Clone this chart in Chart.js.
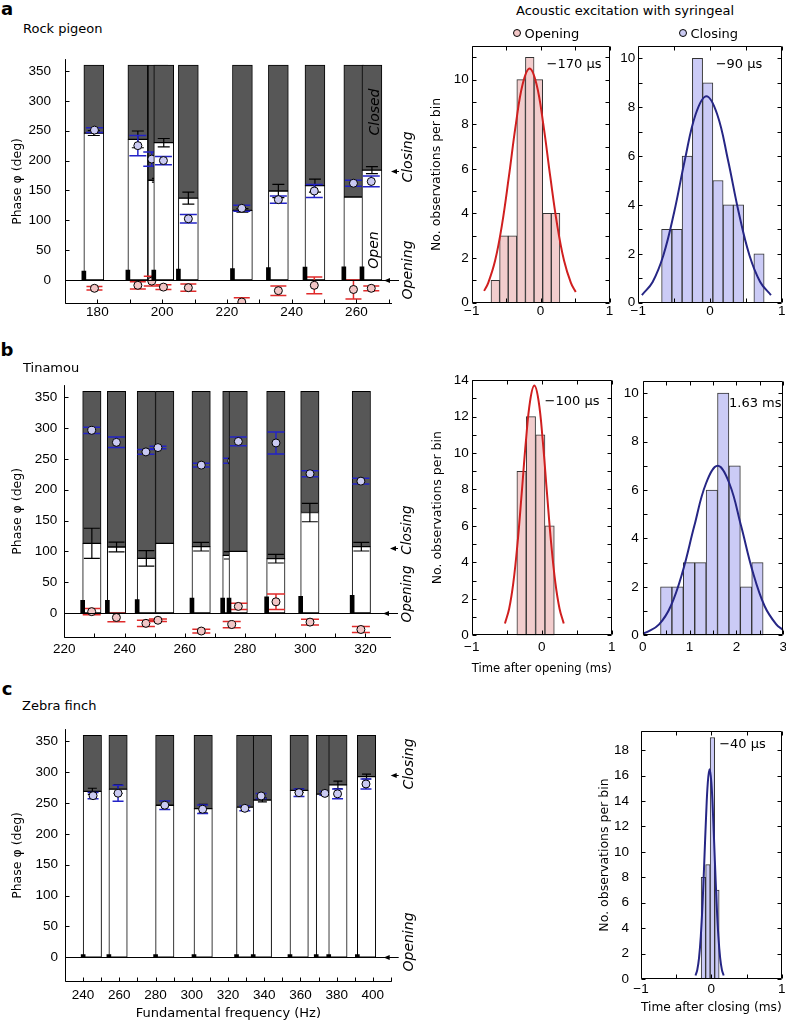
<!DOCTYPE html>
<html><head><meta charset="utf-8"><title>Syringeal phase</title>
<script src="https://cdn.jsdelivr.net/npm/chart.js@4.4.1/dist/chart.umd.min.js"></script>
<style>
html,body{margin:0;padding:0;background:#fff;}
body{position:relative;width:786px;height:1023px;overflow:hidden;font-family:"DejaVu Sans",sans-serif;color:#000;}
canvas{position:absolute;}
.lbl{position:absolute;white-space:nowrap;line-height:1;font-size:13px;}
.dot{position:absolute;width:8px;height:8px;border:1px solid #000;border-radius:50%;box-sizing:border-box;transform:translate(-50%,-50%);}
</style></head><body>
<script>
// ======================= DATA =======================
// Shared phase axis ticks (deg)
const phaseTicks = [0, 50, 100, 150, 200, 250, 300, 350];

// ---- Panel a: Rock pigeon ----
const freqTicksA  = [170, 180, 190, 200, 210, 220, 230, 240, 250, 260, 270];
const freqLabelsA = [180, 200, 220, 240, 260];
const barFreqA     = [178.9, 192.5, 198.7, 200.5, 208.1, 224.8, 235.9, 247.2, 259.2, 264.8];
const closedFromA  = [246, 235.5, 167, 230, 137, 116.5, 149, 158, 139, 184];
const closedSdA    = [4, 14, 3, 7, 10, 3, 11, 11, 0, 6];
const openMarkA    = [15, 16.5, null, 16.5, 18, 19, 20.5, 21.5, 22, 22];
const exciteFreqA  = [179.1, 192.5, 196.8, 200.4, 208.1, 224.6, 235.9, 247.0, 259.1, 264.6];
const exClosingA   = [251, 225, 202.5, 200, 102.5, 120, 134.5, 149, 162, 165];
const exClosingSdA = [4, 17, 12, 7, 7, 5, 6, 11, 5, 9];
const exOpeningA   = [-14, -9, -2, -12, -13, -37, -18, -9, -16, -14];
const exOpeningSdA = [3, 6, 8, 4, 6, 7, 8, 14, 16, 4];
const closingArrowA = 183;

// ---- Panel b: Tinamou ----
const freqTicksB  = [220, 230, 240, 250, 260, 270, 280, 290, 300, 310, 320];
const freqLabelsB = [220, 240, 260, 280, 300, 320];
const barFreqB     = [229.15, 237.35, 247.25, 253.35, 265.45, 275.65, 277.75, 290.25, 301.55, 318.65];
const closedFromB  = [113, 107, 88.5, 113, 107.5, 93.5, 100, 88, 163, 107.5];
const closedSdB    = [24.5, 8, 12.5, 0, 7, 6, 0, 7, 15, 7];
const openMarkB    = [20.5, 20.5, 21.5, null, 24, 24, 24, 26, 27, 28.5];
const exciteFreqB  = [229.1, 237.3, 247.1, 251.1, 265.5, 275.6, 277.8, 290.3, 301.6, 318.5];
const exClosingB   = [296.5, 277, 261.5, 268.5, 240, 247, 278.5, 276, 226, 214];
const exClosingSdB = [5, 8.5, 4, 2, 3, 4, 7, 18, 5, 4.5];
const exOpeningB   = [2, -7.5, -17, -12, -29.5, -19, 10.5, 18, -15, -27];
const exOpeningSdB = [5, 7, 5, 2, 3, 5, 5, 12.5, 4.5, 5];
const closingArrowB = 105;

// ---- Panel c: Zebra finch ----
const freqTicksC  = [230, 240, 250, 260, 270, 280, 290, 300, 310, 320, 330, 340, 350, 360, 370, 380, 390, 400, 410];
const freqLabelsC = [240, 260, 280, 300, 320, 340, 360, 380, 400];
const barFreqC     = [245.1, 259.3, 285.1, 306.3, 329.8, 339.0, 359.3, 373.8, 380.7, 396.5];
const closedFromC  = [269, 272.5, 246.5, 241, 243.5, 255, 270.5, 264.5, 279.5, 293];
const closedSdC    = [5, 7, 0, 7, 0, 3, 3, 0, 6, 4];
const openMarkC    = [4, 4, 4, 4, 4, 4, 4, 4, 4, 4];
const exciteFreqC  = [245.5, 259.3, 285.1, 306, 329.3, 338.3, 359.2, 373.5, 380.5, 396.2];
const exClosingC   = [262, 266, 246.5, 240, 241.5, 261.5, 266.8, 265.7, 265, 281];
const exClosingSdC = [5, 13, 7, 7, 4, 4, 6, 3, 8, 8];
const closingArrowC = 295;

// ---- Histograms (time, ms) ----
const histTicksPM1  = [-1, -0.5, 0, 0.5, 1];
const histLabelsPM1 = [-1, 0, 1];
const histTicks03   = [0, 0.5, 1, 1.5, 2, 2.5, 3];
const histLabels03  = [0, 1, 2, 3];
const countTicks11  = [0,1,2,3,4,5,6,7,8,9,10,11];
const countTicks10  = [0,1,2,3,4,5,6,7,8,9,10];
const countTicks14  = [0,1,2,3,4,5,6,7,8,9,10,11,12,13,14];
const countTicks18  = [0,2,4,6,8,10,12,14,16,18];
const countLabels10 = [0,2,4,6,8,10];
const countLabels14 = [0,2,4,6,8,10,12,14];
const countLabels18 = [0,2,4,6,8,10,12,14,16,18];

const binsAOpen   = [-0.6575, -0.5325, -0.4075, -0.2825, -0.1575, -0.0325, 0.0925, 0.2175];
const countsAOpen = [1, 3, 3, 10, 11, 10, 4, 4];
const fitAOpenX   = [-0.82, -0.76, -0.66, -0.56, -0.46, -0.36, -0.26, -0.16, -0.06, 0.04, 0.14, 0.24, 0.34, 0.44, 0.51];
const fitAOpenY   = [0.53, 0.89, 1.89, 3.50, 5.66, 7.98, 9.80, 10.5, 9.80, 7.98, 5.66, 3.50, 1.89, 0.89, 0.48];

const binsAClose   = [-0.6035, -0.4605, -0.3175, -0.1745, -0.0315, 0.1115, 0.2545, 0.3975, 0.5405, 0.6835];
const countsAClose = [3, 3, 6, 10, 9, 5, 4, 4, 0, 2];
const fitACloseX   = [-0.95, -0.8, -0.65, -0.5, -0.35, -0.2, -0.05, 0.1, 0.25, 0.4, 0.55, 0.7, 0.85];
const fitACloseY   = [0.31, 0.85, 1.94, 3.70, 5.85, 7.71, 8.45, 7.71, 5.85, 3.70, 1.94, 0.85, 0.31];

const binsBOpen   = [-0.288, -0.154, -0.020, 0.113];
const countsBOpen = [9, 12, 11, 6];
const fitBOpenX   = [-0.525, -0.465, -0.405, -0.345, -0.285, -0.225, -0.165, -0.105, -0.045, 0.015, 0.075, 0.135, 0.195, 0.255, 0.315];
const fitBOpenY   = [0.65, 1.46, 2.89, 5.06, 7.82, 10.68, 12.87, 13.7, 12.87, 10.68, 7.82, 5.06, 2.89, 1.46, 0.65];

const binsBClose   = [0.502, 0.745, 0.988, 1.232, 1.475, 1.718, 1.962, 2.205, 2.448];
const countsBClose = [2, 2, 3, 3, 6, 10, 7, 2, 3];
const fitBCloseX   = [0, 0.1, 0.35, 0.6, 0.85, 1.1, 1.35, 1.6, 1.85, 2.1, 2.35, 2.6, 2.85, 3.0];
const fitBCloseY   = [0.08, 0.14, 0.45, 1.21, 2.61, 4.51, 6.27, 7.0, 6.27, 4.51, 2.61, 1.21, 0.45, 0.22];

const binsCClose   = [-0.113, -0.049, 0.015, 0.079];
const countsCClose = [8, 9, 19, 7];
const fitCCloseX   = [-0.225, -0.2, -0.175, -0.15, -0.125, -0.1, -0.075, -0.05, -0.025, 0, 0.025, 0.05, 0.075, 0.1, 0.125, 0.15, 0.175];
const fitCCloseY   = [0.28, 0.72, 1.66, 3.35, 5.95, 9.29, 12.78, 15.48, 16.5, 15.48, 12.78, 9.29, 5.95, 3.35, 1.66, 0.72, 0.28];

// ======================= STYLE =======================
const GRAY = '#575757', BLUE = '#2323c8', RED = '#e02a2a';
const BLUE_FILL = '#cacaf2', RED_FILL = '#f2c6c6';
const HIST_RED = '#f2cdcd', HIST_BLUE = '#cbcbf6';
const CURVE_RED = '#d01f1f', CURVE_BLUE = '#262685';
const TICK_FONT = {family: '"Liberation Sans", Arial, sans-serif', size: 13.5};
Chart.defaults.font.family = '"DejaVu Sans", sans-serif';
Chart.defaults.font.size = 13;
Chart.defaults.color = '#000';
Chart.defaults.animation = false;

const minus = v => (v < 0 ? '\u2212' + Math.abs(v) : String(v));

function addCanvas(cb) {
  const c = document.createElement('canvas');
  const w = cb.r - cb.l, h = cb.b - cb.t;
  c.width = w; c.height = h;
  Object.assign(c.style, {left: cb.l + 'px', top: cb.t + 'px', width: w + 'px', height: h + 'px'});
  document.body.appendChild(c);
  return c;
}

function drawErrs(chart, list) {
  const {ctx, chartArea: a, scales: {x, y}} = chart;
  ctx.save();
  ctx.beginPath(); ctx.rect(a.left, a.top, a.right - a.left, a.bottom - a.top); ctx.clip();
  for (const e of list) {
    const X = x.getPixelForValue(e.x);
    const y1 = y.getPixelForValue(e.v - e.s), y2 = y.getPixelForValue(e.v + e.s);
    ctx.strokeStyle = e.color; ctx.lineWidth = e.lw;
    ctx.beginPath();
    ctx.moveTo(X, y1); ctx.lineTo(X, y2);
    ctx.moveTo(X - e.cap, y1); ctx.lineTo(X + e.cap, y1);
    ctx.moveTo(X - e.cap, y2); ctx.lineTo(X + e.cap, y2);
    ctx.stroke();
  }
  ctx.restore();
}

function arrow(ctx, tipX, tailX, y) {
  ctx.beginPath(); ctx.moveTo(tailX, y); ctx.lineTo(tipX + 4, y); ctx.stroke();
  ctx.beginPath(); ctx.moveTo(tipX, y); ctx.lineTo(tipX + 6, y - 2.5); ctx.lineTo(tipX + 6, y + 2.5); ctx.closePath(); ctx.fill();
}

function phaseChart(p) {
  const cb = p.canvas, ca = p.area;
  const cv = addCanvas(cb);
  const yW = ca.l - cb.l, pt = ca.t - cb.t, pr = cb.r - ca.r, xH = cb.b - ca.b;
  const pxPerHz = (ca.r - ca.l) / (p.xMax - p.xMin);
  const N = p.barFreq.length;
  const datasets = [], before = {}, after = {};
  for (let i = 0; i < N; i++) {
    datasets.push({type: 'bar',
      data: [{x: p.barFreq[i], y: [0, p.closedFrom[i]]}, {x: p.barFreq[i], y: [p.closedFrom[i], 360]}],
      backgroundColor: ['#ffffff', GRAY], borderColor: '#000', borderWidth: 1, borderSkipped: false,
      grouped: false, barThickness: p.barW * pxPerHz, order: -2 * i});
    if (p.closedSd[i] > 0) after[datasets.length - 1] = [{x: p.barFreq[i], v: p.closedFrom[i], s: p.closedSd[i], color: '#000', cap: p.caps.k, lw: 1.2}];
    const pts = [{x: p.exFreq[i], y: p.exClos[i]}], bg = [BLUE_FILL];
    const errs = [{x: p.exFreq[i], v: p.exClos[i], s: p.exClosSd[i], color: BLUE, cap: p.caps.b, lw: 1.5}];
    if (p.exOpen) {
      pts.push({x: p.exFreq[i], y: p.exOpen[i]}); bg.push(RED_FILL);
      errs.push({x: p.exFreq[i], v: p.exOpen[i], s: p.exOpenSd[i], color: RED, cap: p.caps.r, lw: 1.5});
    }
    datasets.push({type: 'scatter', data: pts, pointBackgroundColor: bg, pointBorderColor: '#000',
      pointBorderWidth: 1, pointRadius: 4, order: -(2 * i + 1)});
    before[datasets.length - 1] = errs;
  }
  const marks = [];
  p.openMark.forEach((h, i) => { if (h != null) marks.push({x: p.barFreq[i] - p.barW / 2, y: [0, h]}); });
  datasets.push({type: 'bar', data: marks, backgroundColor: '#000', borderWidth: 0, grouped: false, barThickness: 4, order: -2 * N});

  const deco = {
    id: 'phaseDeco',
    beforeDatasetDraw(chart, args) { if (before[args.index]) drawErrs(chart, before[args.index]); },
    afterDatasetDraw(chart, args) { if (after[args.index]) drawErrs(chart, after[args.index]); },
    afterDatasetsDraw(chart) {
      const {ctx, chartArea: a, scales: {x, y}} = chart;
      ctx.save(); ctx.strokeStyle = '#000'; ctx.fillStyle = '#000'; ctx.lineWidth = 1;
      const y0 = Math.round(y.getPixelForValue(0)) + 0.5;
      ctx.beginPath(); ctx.moveTo(a.left, y0); ctx.lineTo(a.right, y0); ctx.stroke();
      arrow(ctx, a.right - 8, a.right + 7, y0);
      const yc = Math.round(y.getPixelForValue(p.arrow)) + 0.5;
      arrow(ctx, a.right - 1, a.right + 7, yc);
      const xl = Math.round(a.left) + 0.5, yb = Math.round(a.bottom) - 0.5;
      ctx.beginPath();
      ctx.moveTo(xl, a.top); ctx.lineTo(xl, yb); ctx.lineTo(a.right, yb);
      for (const v of phaseTicks) { const py = Math.round(y.getPixelForValue(v)) + 0.5; ctx.moveTo(xl, py); ctx.lineTo(xl + 4, py); }
      for (const v of p.xTicks) { const px = Math.round(x.getPixelForValue(v)) + 0.5; ctx.moveTo(px, yb); ctx.lineTo(px, yb - 4); }
      ctx.stroke(); ctx.restore();
    }
  };

  new Chart(cv, {
    type: 'scatter',
    data: {datasets},
    options: {
      responsive: false, animation: false, events: [], devicePixelRatio: 1,
      layout: {autoPadding: false, padding: {left: 0, top: pt, right: pr, bottom: 0}},
      plugins: {legend: {display: false}, tooltip: {enabled: false}},
      scales: {
        x: {type: 'linear', position: 'bottom', min: p.xMin, max: p.xMax, offset: false,
          grid: {display: false, drawTicks: false}, border: {display: false},
          afterBuildTicks: s => { s.ticks = p.xTicks.map(v => ({value: v})); },
          afterFit: s => { s.height = xH; },
          ticks: {autoSkip: false, maxRotation: 0, minRotation: 0, padding: p.xPad, color: '#000', font: TICK_FONT,
            callback: v => (p.xLabels.includes(v) ? String(v) : '')},
          title: p.xTitle ? {display: true, text: p.xTitle, color: '#000', font: {size: 13}, padding: {top: 0, bottom: p.xTitlePad}} : {display: false}
        },
        y: {type: 'linear', position: 'left', min: -40, max: 370,
          grid: {display: false, drawTicks: false}, border: {display: false},
          afterBuildTicks: s => { s.ticks = phaseTicks.map(v => ({value: v})); },
          afterFit: s => { s.width = yW; },
          ticks: {autoSkip: false, padding: p.yPad, color: '#000', font: TICK_FONT},
          title: {display: true, text: 'Phase \u03c6 (deg)', color: '#000', font: {size: 12.5}, padding: {top: 10, bottom: 0}}
        }
      }
    },
    plugins: [deco]
  });
}

function histChart(p) {
  const cb = p.canvas, ca = p.area;
  const cv = addCanvas(cb);
  const yW = ca.l - cb.l, pt = ca.t - cb.t, pr = cb.r - ca.r, xH = cb.b - ca.b;
  const box = {
    id: 'histBox',
    afterDraw(chart) {
      const {ctx, chartArea: a, scales: {x, y}} = chart;
      ctx.save(); ctx.strokeStyle = '#000'; ctx.lineWidth = 1;
      const L = Math.round(a.left) + 0.5, R = Math.round(a.right) - 0.5, T = Math.round(a.top) + 0.5, B = Math.round(a.bottom) - 0.5;
      ctx.beginPath(); ctx.rect(L, T, R - L, B - T);
      for (const v of p.xTicks) { const px = Math.round(x.getPixelForValue(v)) + 0.5; ctx.moveTo(px, B); ctx.lineTo(px, B - 4); ctx.moveTo(px, T); ctx.lineTo(px, T + 4); }
      for (const v of p.yTicks) { const py = Math.round(y.getPixelForValue(v)) + 0.5; ctx.moveTo(L, py); ctx.lineTo(L + 4, py); ctx.moveTo(R, py); ctx.lineTo(R - 4, py); }
      ctx.stroke(); ctx.restore();
    }
  };
  new Chart(cv, {
    type: 'bar',
    data: {datasets: [
      {type: 'bar', data: p.bins.map((c, i) => ({x: c, y: p.counts[i]})), backgroundColor: p.fill,
        borderColor: '#333', borderWidth: 1, borderSkipped: false, barPercentage: 1, categoryPercentage: 1, order: 1},
      {type: 'line', data: p.fitX.map((x, i) => ({x, y: p.fitY[i]})), borderColor: p.curve, borderWidth: 2,
        pointRadius: 0, tension: 0.4, fill: false, order: 0}
    ]},
    options: {
      responsive: false, animation: false, events: [], devicePixelRatio: 1,
      layout: {autoPadding: false, padding: {left: 0, top: pt, right: pr, bottom: 0}},
      plugins: {legend: {display: false}, tooltip: {enabled: false}},
      scales: {
        x: {type: 'linear', position: 'bottom', min: p.xMin, max: p.xMax, offset: false,
          grid: {display: false, drawTicks: false}, border: {display: false},
          afterBuildTicks: s => { s.ticks = p.xTicks.map(v => ({value: v})); },
          afterFit: s => { s.height = xH; },
          ticks: {autoSkip: false, maxRotation: 0, minRotation: 0, padding: p.xPad, color: '#000', font: TICK_FONT,
            callback: v => (p.xLabels.includes(v) ? minus(v) : '')},
          title: p.xTitle ? {display: true, text: p.xTitle, color: '#000', font: {size: 13}, padding: {top: 0, bottom: p.xTitlePad}} : {display: false}
        },
        y: {type: 'linear', position: 'left', min: 0, max: p.yMax,
          grid: {display: false, drawTicks: false}, border: {display: false},
          afterBuildTicks: s => { s.ticks = p.yTicks.map(v => ({value: v})); },
          afterFit: s => { s.width = yW; },
          ticks: {autoSkip: false, padding: p.yPad, color: '#000', font: TICK_FONT,
            callback: v => (p.yLabels.includes(v) ? String(v) : '')},
          title: p.yTitle ? {display: true, text: p.yTitle, color: '#000', font: {size: 12.5}, padding: {top: p.yTitlePad, bottom: 0}} : {display: false}
        }
      }
    },
    plugins: [box]
  });
}

// ======================= CHARTS =======================
phaseChart({canvas: {l: 0, t: 37, r: 420, b: 330}, area: {l: 65, t: 46.8, r: 392, b: 303.8},
  xMin: 170, xMax: 271, xTicks: freqTicksA, xLabels: freqLabelsA, barW: 6.15,
  barFreq: barFreqA, closedFrom: closedFromA, closedSd: closedSdA, openMark: openMarkA,
  exFreq: exciteFreqA, exClos: exClosingA, exClosSd: exClosingSdA, exOpen: exOpeningA, exOpenSd: exOpeningSdA,
  arrow: closingArrowA, caps: {k: 6, b: 8.5, r: 8}, xPad: 0, yPad: 14});

phaseChart({canvas: {l: 0, t: 370, r: 420, b: 662}, area: {l: 64.3, t: 379.4, r: 391, b: 637.5},
  xMin: 220, xMax: 328.5, xTicks: freqTicksB, xLabels: freqLabelsB, barW: 6.1,
  barFreq: barFreqB, closedFrom: closedFromB, closedSd: closedSdB, openMark: openMarkB,
  exFreq: exciteFreqB, exClos: exClosingB, exClosSd: exClosingSdB, exOpen: exOpeningB, exOpenSd: exOpeningSdB,
  arrow: closingArrowB, caps: {k: 8, b: 8.5, r: 9}, xPad: 4, yPad: 7});

phaseChart({canvas: {l: 0, t: 714, r: 420, b: 1023}, area: {l: 65, t: 724.1, r: 391.7, b: 981.8},
  xMin: 230, xMax: 410.4, xTicks: freqTicksC, xLabels: freqLabelsC, barW: 10.15,
  barFreq: barFreqC, closedFrom: closedFromC, closedSd: closedSdC, openMark: openMarkC,
  exFreq: exciteFreqC, exClos: exClosingC, exClosSd: exClosingSdC, exOpen: null, exOpenSd: null,
  arrow: closingArrowC, caps: {k: 4.5, b: 5.5, r: 5}, xPad: 5, yPad: 7,
  xTitle: 'Fundamental frequency (Hz)', xTitlePad: 1.5});

histChart({canvas: {l: 425, t: 35, r: 620, b: 330}, area: {l: 471.7, t: 45, r: 609.5, b: 302.7},
  xMin: -1, xMax: 1, xTicks: histTicksPM1, xLabels: histLabelsPM1, yMax: 11.5, yTicks: countTicks11, yLabels: countLabels10,
  bins: binsAOpen, counts: countsAOpen, fill: HIST_RED, fitX: fitAOpenX, fitY: fitAOpenY, curve: CURVE_RED,
  xPad: 0, yPad: 3, yTitle: 'No. observations per bin', yTitlePad: 4.5});

histChart({canvas: {l: 608, t: 35, r: 795, b: 330}, area: {l: 638.3, t: 45, r: 781.7, b: 302.7},
  xMin: -1, xMax: 1, xTicks: histTicksPM1, xLabels: histLabelsPM1, yMax: 10.5, yTicks: countTicks10, yLabels: countLabels10,
  bins: binsAClose, counts: countsAClose, fill: HIST_BLUE, fitX: fitACloseX, fitY: fitACloseY, curve: CURVE_BLUE,
  xPad: 0, yPad: 3});

histChart({canvas: {l: 425, t: 369, r: 622, b: 685}, area: {l: 471.7, t: 379.3, r: 611.7, b: 635.3},
  xMin: -1, xMax: 1, xTicks: histTicksPM1, xLabels: histLabelsPM1, yMax: 14, yTicks: countTicks14, yLabels: countLabels14,
  bins: binsBOpen, counts: countsBOpen, fill: HIST_RED, fitX: fitBOpenX, fitY: fitBOpenY, curve: CURVE_RED,
  xPad: 3.5, yPad: 3, yTitle: 'No. observations per bin', yTitlePad: 5.5,
  xTitle: 'Time after opening (ms)', xTitlePad: 9});

histChart({canvas: {l: 612, t: 369, r: 795, b: 662}, area: {l: 642.7, t: 379.3, r: 783.3, b: 635.3},
  xMin: 0, xMax: 3, xTicks: histTicks03, xLabels: histLabels03, yMax: 10.5, yTicks: countTicks10, yLabels: countLabels10,
  bins: binsBClose, counts: countsBClose, fill: HIST_BLUE, fitX: fitBCloseX, fitY: fitBCloseY, curve: CURVE_BLUE,
  xPad: 3.5, yPad: 4});

histChart({canvas: {l: 595, t: 711, r: 795, b: 1023}, area: {l: 641, t: 721, r: 781.7, b: 979},
  xMin: -1, xMax: 1, xTicks: histTicksPM1, xLabels: histLabelsPM1, yMax: 19.5, yTicks: countTicks18, yLabels: countLabels18,
  bins: binsCClose, counts: countsCClose, fill: HIST_BLUE, fitX: fitCCloseX, fitY: fitCCloseY, curve: CURVE_BLUE,
  xPad: 2, yPad: 12, yTitle: 'No. observations per bin', yTitlePad: 2,
  xTitle: 'Time after closing (ms)', xTitlePad: 8});

// ======================= TEXT =======================
function txt(s, x, y, o = {}) {
  const d = document.createElement('div');
  d.className = 'lbl'; d.textContent = s;
  d.style.left = x + 'px'; d.style.top = y + 'px';
  if (o.size) d.style.fontSize = o.size + 'px';
  if (o.bold) d.style.fontWeight = 'bold';
  if (o.italic) d.style.fontStyle = 'italic';
  const ax = o.anchor === 'left' ? '0' : '-50%';
  d.style.transform = 'translate(' + ax + ',-50%)' + (o.rot ? ' rotate(' + o.rot + 'deg)' : '');
  document.body.appendChild(d);
}
function dot(x, y, color) {
  const d = document.createElement('div'); d.className = 'dot';
  d.style.left = x + 'px'; d.style.top = y + 'px'; d.style.background = color;
  document.body.appendChild(d);
}

txt('a', 7, 9, {size: 18, bold: true});
txt('b', 7, 349.5, {size: 18, bold: true});
txt('c', 7, 688.5, {size: 18, bold: true});
txt('Rock pigeon', 23, 27.5, {anchor: 'left'});
txt('Tinamou', 23, 366.5, {anchor: 'left'});
txt('Zebra finch', 22, 704.5, {anchor: 'left'});
txt('Acoustic excitation with syringeal', 625, 10);
dot(516.7, 33, RED_FILL); txt('Opening', 524.5, 33, {anchor: 'left'});
dot(682.7, 33, BLUE_FILL); txt('Closing', 690.5, 33, {anchor: 'left'});
txt('\u2212170 \u00b5s', 574, 63.3);
txt('\u221290 \u00b5s', 739, 63.3);
txt('\u2212100 \u00b5s', 572, 400);
txt('1.63 ms', 755.3, 401.5);
txt('\u221240 \u00b5s', 742.5, 742.5);
txt('Closed', 373.5, 111.7, {size: 14, italic: true, rot: -90});
txt('Open', 372.5, 250, {size: 14, italic: true, rot: -90});
txt('Closing', 407, 156.7, {size: 14, italic: true, rot: -90});
txt('Opening', 407, 270, {size: 14, italic: true, rot: -90});
txt('Closing', 407, 530, {size: 13.5, italic: true, rot: -90});
txt('Opening', 407, 594, {size: 13.5, italic: true, rot: -90});
txt('Closing', 407.5, 763.5, {size: 14, italic: true, rot: -90});
txt('Opening', 407.5, 942, {size: 14, italic: true, rot: -90});
</script>
</body></html>
